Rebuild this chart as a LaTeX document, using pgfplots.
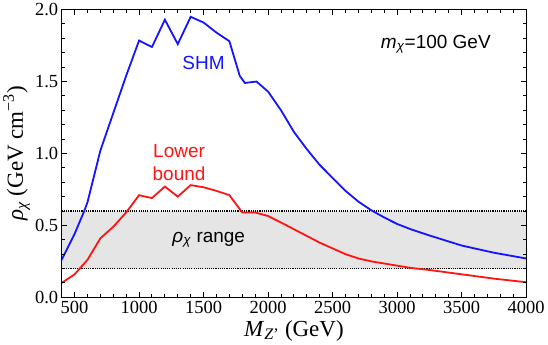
\documentclass[border=0pt]{standalone}
\usepackage{fontspec}
\setmainfont{Liberation Serif}
\newfontfamily\sans{Liberation Sans}
\usepackage{pgfplots}
\pgfplotsset{compat=1.18}

\definecolor{shmblue}{RGB}{20,20,255}
\definecolor{lbred}{RGB}{255,20,20}

\begin{document}
\begin{tikzpicture}
\begin{axis}[
    scale only axis, width=465pt, height=288pt,
    xmin=400, xmax=4000, ymin=0, ymax=2,
    xtick={500,1000,...,4000}, minor x tick num=4,
    ytick={0,0.5,1,1.5,2}, minor y tick num=4,
    tick align=inside, major tick length=5pt, minor tick length=3pt,
    tick style={black, line width=1pt},
    axis line style={line width=1.3pt},
    axis on top,
    /pgf/number format/assume math mode=true,
    tick label style={font=\fontsize{18.5}{18.5}\selectfont},
    x tick label style={/pgf/number format/.cd, 1000 sep={}, fixed},
    y tick label style={/pgf/number format/.cd, fixed, fixed zerofill, precision=1},
    scaled x ticks=false,
    xlabel={\textit{M}\textsubscript{\textit{Z}'} (GeV)},
    ylabel={\textit{ρ}\textsubscript{\textit{χ}} (GeV cm\textsuperscript{−3})},
    label style={font=\fontsize{23}{23}\selectfont},
    xlabel style={yshift=0pt},
    ylabel style={yshift=-2pt},
]
% allowed density range
\addplot[fill=gray!20, draw=none] coordinates {(400,0.2)(4000,0.2)(4000,0.6)(400,0.6)} -- cycle;
\addplot[black, line width=1.1pt, dash pattern=on 1.1pt off 1.1pt] coordinates {(400,0.2)(4000,0.2)};
\addplot[black, line width=1.1pt, dash pattern=on 1.1pt off 1.1pt] coordinates {(400,0.6)(4000,0.6)};
% SHM
\addplot[shmblue, line width=1.8pt] coordinates {
  (400,0.26)(500,0.44)(575,0.60)(600,0.66)(700,1.02)(800,1.28)(900,1.54)
  (1000,1.785)(1100,1.74)(1200,1.93)(1300,1.76)(1400,1.95)(1500,1.91)
  (1600,1.84)(1700,1.78)(1780,1.54)(1820,1.49)(1910,1.50)(2000,1.43)
  (2100,1.30)(2200,1.15)(2300,1.03)(2400,0.92)(2500,0.83)(2600,0.74)
  (2700,0.665)(2800,0.605)(2900,0.555)(3000,0.51)(3100,0.475)(3250,0.43)
  (3500,0.36)(3750,0.31)(4000,0.27)};
% lower bound
\addplot[lbred, line width=1.8pt] coordinates {
  (400,0.10)(500,0.16)(600,0.26)(700,0.41)(800,0.49)(900,0.59)
  (1000,0.71)(1100,0.69)(1200,0.77)(1300,0.70)(1400,0.78)(1500,0.765)
  (1600,0.74)(1700,0.71)(1800,0.59)(1900,0.59)(2000,0.565)(2100,0.52)
  (2250,0.45)(2400,0.38)(2500,0.34)(2600,0.30)(2700,0.27)(2800,0.25)
  (2900,0.235)(3000,0.22)(3100,0.205)(3250,0.19)(3500,0.16)(3750,0.13)
  (4000,0.105)};
\node[shmblue, font=\sans\fontsize{19}{19}\selectfont] at (axis cs:1500,1.63) {SHM};
\node[lbred, font=\sans\fontsize{19}{23}\selectfont, align=center] at (axis cs:1310,0.94) {Lower\\bound};
\node[black, font=\sans\fontsize{19}{19}\selectfont] at (axis cs:1540,0.40) {\textit{ρ}\textsubscript{\textit{χ}} range};
\node[black, font=\sans\fontsize{19}{19}\selectfont] at (axis cs:3300,1.76) {\textit{m}\textsubscript{\textit{χ}}=100 GeV};
\end{axis}
\end{tikzpicture}
\end{document}
